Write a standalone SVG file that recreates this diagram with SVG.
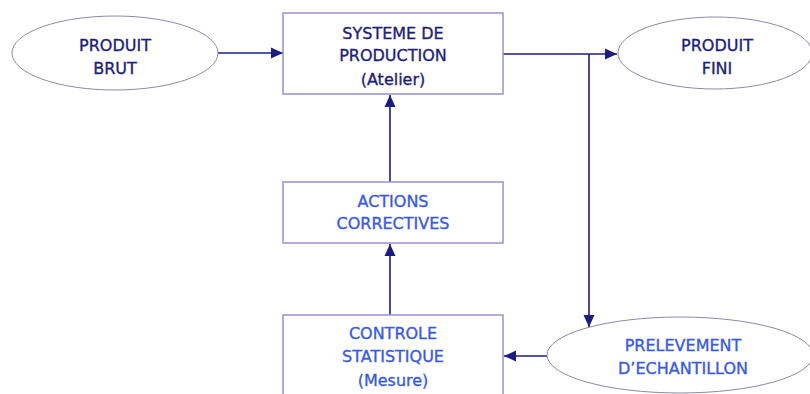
<svg xmlns="http://www.w3.org/2000/svg" width="810" height="394" viewBox="0 0 810 394">
<defs>
<marker id="ah" viewBox="0 0 12 12" refX="12" refY="6" markerWidth="12" markerHeight="12" markerUnits="userSpaceOnUse" orient="auto">
<path d="M0,0.5 L12,6 L0,11.5 z" fill="#1c1c80"/>
</marker>
<style>
.ell{fill:#fff;stroke:#8a8aa8;stroke-width:1}
.box{fill:#fff;stroke:#9494cc;stroke-width:1.5}
.t{font-family:"DejaVu Sans","Liberation Sans",sans-serif;font-size:16px;text-anchor:middle;stroke-width:0.35}
.dk{fill:#1e1e78;stroke:#1e1e78}
.lt{fill:#3a5ae0;stroke:#3a5ae0}
.ln{fill:none;stroke:#1c1c80;stroke-width:1.6}
</style>
</defs>
<rect width="810" height="394" fill="#fff"/>
<g id="connectors">
<line class="ln" x1="218" y1="53" x2="283" y2="53" marker-end="url(#ah)"/>
<line class="ln" x1="503" y1="54" x2="617" y2="54" marker-end="url(#ah)"/>
<line class="ln" x1="589" y1="54" x2="589" y2="327" marker-end="url(#ah)"/>
<line class="ln" x1="390" y1="182" x2="390" y2="95" marker-end="url(#ah)"/>
<line class="ln" x1="390" y1="315" x2="390" y2="244" marker-end="url(#ah)"/>
<line class="ln" x1="547" y1="356" x2="504" y2="356" marker-end="url(#ah)"/>
</g>
<g id="produit-brut">
<ellipse class="ell" cx="115" cy="53" rx="103" ry="37"/>
<text class="t dk" x="115" y="51">PRODUIT</text>
<text class="t dk" x="115" y="74">BRUT</text>
</g>
<g id="systeme">
<rect class="box" x="283" y="13" width="220" height="81"/>
<text class="t dk" x="393" y="39">SYSTEME DE</text>
<text class="t dk" x="393" y="61">PRODUCTION</text>
<text class="t dk" x="393" y="85">(Atelier)</text>
</g>
<g id="produit-fini">
<ellipse class="ell" cx="715" cy="53" rx="97" ry="36"/>
<text class="t dk" x="717" y="51">PRODUIT</text>
<text class="t dk" x="717" y="74">FINI</text>
</g>
<g id="actions">
<rect class="box" x="283" y="182" width="220" height="61"/>
<text class="t lt" x="393" y="207">ACTIONS</text>
<text class="t lt" x="393" y="229">CORRECTIVES</text>
</g>
<g id="controle">
<rect class="box" x="283" y="315" width="220" height="90"/>
<text class="t lt" x="393" y="339">CONTROLE</text>
<text class="t lt" x="393" y="362">STATISTIQUE</text>
<text class="t lt" x="393" y="386">(Mesure)</text>
</g>
<g id="prelevement">
<ellipse class="ell" cx="680" cy="355" rx="133" ry="38"/>
<text class="t lt" x="683" y="351">PRELEVEMENT</text>
<text class="t lt" x="683" y="374">D’ECHANTILLON</text>
</g>
</svg>
